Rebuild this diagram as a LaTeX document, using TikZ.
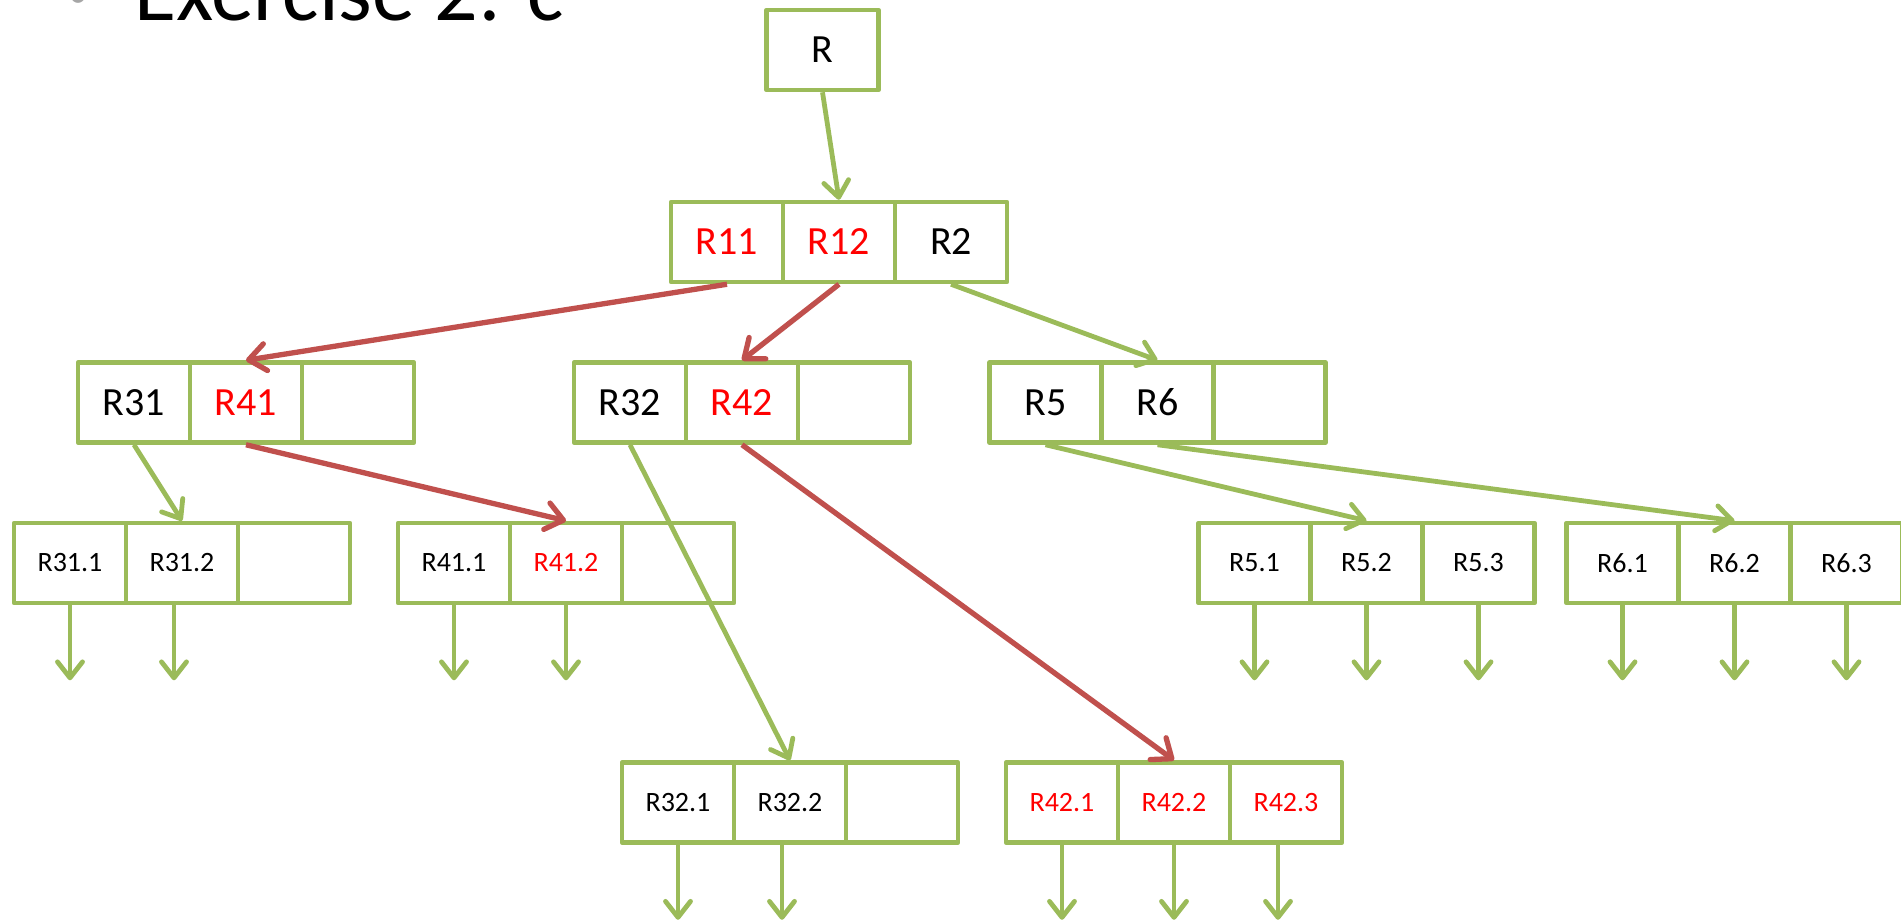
\documentclass[tikz,border=0pt]{standalone}
\usepackage{fontspec}
\setmainfont{Carlito}
\usetikzlibrary{arrows.meta,calc}
\definecolor{boxgreen}{HTML}{9BBB59}
\definecolor{pathred}{HTML}{C0504D}
\definecolor{hitred}{HTML}{FF0000}
\definecolor{bulletgray}{HTML}{A6A6A6}

\begin{document}
\begin{tikzpicture}[x=1pt,y=-1pt,
  cell/.style={draw=boxgreen, line width=4.5pt, line join=round,
    minimum width=112pt, minimum height=80pt, inner sep=0pt},
  big/.style={cell, font=\fontsize{40}{48}\selectfont},
  small/.style={cell, font=\fontsize{28}{34}\selectfont},
  hit/.style={text=hitred},
  link/.style={draw=boxgreen, line width=4.8pt,
    -{Straight Barb[length=16pt,width=25pt,round]}},
  redlink/.style={draw=pathred, line width=5.3pt,
    -{Straight Barb[length=17pt,width=27pt,round]}},
]
\useasboundingbox (0,0) rectangle (1901,921);

% heading
\node[anchor=base, inner sep=0pt, text=bulletgray,
  font=\fontsize{40}{48}\selectfont] (bullet) at (78,7) {•};
\node[anchor=base west, inner sep=0pt,
  font=\fontsize{86}{100}\selectfont] (title) at (134,20) {Exercise 2: c};

% root
\node[big] (r) at (822.5,50) {R};

% level 1
\node[big, hit] (l1a) at (727,242) {R11};
\node[big, hit] (l1b) at (839,242) {R12};
\node[big]      (l1c) at (951,242) {R2};

% level 2
\node[big]      (a2a) at (134,402.5) {R31};
\node[big, hit] (a2b) at (246,402.5) {R41};
\node[big]      (a2c) at (358,402.5) {};

\node[big]      (b2a) at (630,402.5) {R32};
\node[big, hit] (b2b) at (742,402.5) {R42};
\node[big]      (b2c) at (854,402.5) {};

\node[big] (c2a) at (1045.5,402.5) {R5};
\node[big] (c2b) at (1157.5,402.5) {R6};
\node[big] (c2c) at (1269.5,402.5) {};

% level 3, upper row
\node[small] (a3a) at (70,563) {R31.1};
\node[small] (a3b) at (182,563) {R31.2};
\node[small] (a3c) at (294,563) {};

\node[small]      (b3a) at (454,563) {R41.1};
\node[small, hit] (b3b) at (566,563) {R41.2};
\node[small]      (b3c) at (678,563) {};

\node[small] (c3a) at (1254.5,563) {R5.1};
\node[small] (c3b) at (1366.5,563) {R5.2};
\node[small] (c3c) at (1478.5,563) {R5.3};

\node[small] (d3a) at (1622.5,563) {R6.1};
\node[small] (d3b) at (1734.5,563) {R6.2};
\node[small] (d3c) at (1846.5,563) {R6.3};

% level 3, lower row
\node[small] (e3a) at (678,802.5) {R32.1};
\node[small] (e3b) at (790,802.5) {R32.2};
\node[small] (e3c) at (902,802.5) {};

\node[small, hit] (f3a) at (1062,802.5) {R42.1};
\node[small, hit] (f3b) at (1174,802.5) {R42.2};
\node[small, hit] (f3c) at (1286,802.5) {R42.3};

% pointers between nodes
\draw[link]    (r.south)   -- (l1b.north);
\draw[redlink] (l1a.south) -- (a2b.north);
\draw[redlink] (l1b.south) -- (b2b.north);
\draw[link]    (l1c.south) -- (c2b.north);
\draw[link]    (a2a.south) -- (a3b.north);
\draw[redlink] (a2b.south) -- (b3b.north);
\draw[link]    (b2a.south) -- (e3b.north);
\draw[redlink] (b2b.south) -- (f3b.north);
\draw[link]    (c2a.south) -- (c3b.north);
\draw[link]    (c2b.south) -- (d3b.north);

% pointers to the data pages below
\foreach \n in {a3a,b3a,b3b,c3a,c3b,c3c,d3a,d3b,d3c,e3a,f3a,f3b}
  \draw[link] (\n.south) -- ++(0,75);
\foreach \n in {a3b,e3b,f3c}
  \draw[link] ($(\n.south)+(-8,0)$) -- ++(0,75);

\end{tikzpicture}
\end{document}
